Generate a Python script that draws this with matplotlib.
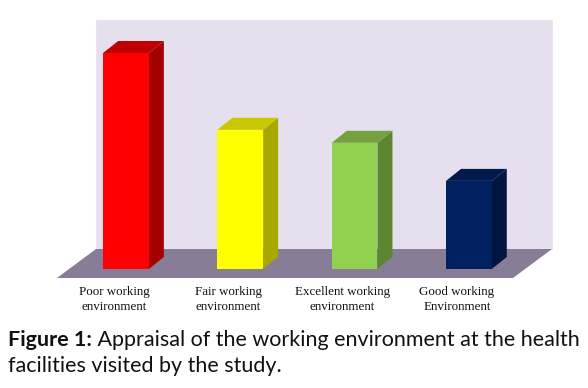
import matplotlib
matplotlib.use("Agg")
import matplotlib.pyplot as plt
from matplotlib.patches import Polygon, Rectangle

# ---- data ----
categories = ["Poor working\nenvironment", "Fair working\nenvironment",
              "Excellent working\nenvironment", "Good working\nEnvironment"]
values = [38.0, 24.5, 22.2, 15.5]
front_colors = ["#FF0000", "#FFFF00", "#92D050", "#002060"]
side_colors = ["#A50000", "#A8A800", "#5E8532", "#00163F"]
top_colors = ["#C00000", "#C8C800", "#74A03E", "#001A4E"]
caption_bold = "Figure 1:"
caption_rest = " Appraisal of the working environment at the health"
caption_line2 = "facilities visited by the study."

W, H = 588, 388
fig = plt.figure(figsize=(W / 100, H / 100), dpi=100)
fig.patch.set_facecolor("white")

# axes in pixel layout
ax = fig.add_axes([40 / W, 88 / H, 540 / W, 290 / H])
px_per_x = 114.3
px_per_y = 5.684
x0_px, y0_px = 126, 269  # pixel of data origin (from left / from top)
ax.set_xlim((40 - x0_px) / px_per_x, (580 - x0_px) / px_per_x)
ax.set_ylim((y0_px - 300) / px_per_y, (y0_px - 10) / px_per_y)
ax.axis("off")

def dx(p):
    return p / px_per_x

def dy(p):
    return p / px_per_y

# back wall
wall_left, wall_right = dx(96 - x0_px), dx(552 - x0_px)
wall_bottom, wall_top = dy(y0_px - 249), dy(y0_px - 20)
ax.add_patch(Rectangle((wall_left, wall_bottom), wall_right - wall_left,
                       wall_top - wall_bottom, facecolor="#E5DFEE",
                       edgecolor="#EDE3EE", lw=0.8, zorder=0))
# floor
floor_front = dy(y0_px - 278)
floor_pts = [(dx(57 - x0_px), floor_front), (dx(513 - x0_px), floor_front),
             (wall_right, wall_bottom), (wall_left, wall_bottom)]
ax.add_patch(Polygon(floor_pts, closed=True, facecolor="#877D97",
                     edgecolor="none", zorder=1))

# bars
bw = 0.4
ddx, ddy = dx(15), dy(12)
xs = list(range(len(values)))
bars = ax.bar(xs, values, width=bw, color=front_colors, zorder=3,
              edgecolor="none")
for x, v, sc, tc in zip(xs, values, side_colors, top_colors):
    r = x + bw / 2
    l = x - bw / 2
    ax.add_patch(Polygon([(r, 0), (r + ddx, ddy), (r + ddx, v + ddy), (r, v)],
                         closed=True, facecolor=sc, edgecolor="none", zorder=2))
    ax.add_patch(Polygon([(l, v), (r, v), (r + ddx, v + ddy), (l + ddx, v + ddy)],
                         closed=True, facecolor=tc, edgecolor="none", zorder=2))

# category labels (centred on the floor's front edge, slightly left of bars)
for x, lab in zip(xs, categories):
    ax.text(x - dx(12), dy(y0_px - 286), lab, ha="center", va="top",
            family="Liberation Serif", fontsize=9.4, color="#111111",
            linespacing=1.32)

# caption
cap_font = "Lato"
fs = 13.0
t1 = fig.text(8 / W, 1 - 346 / H, caption_bold, fontsize=fs, family=cap_font,
              weight="bold", ha="left", va="baseline", color="#111111")
t2 = fig.text(0, 0, caption_rest, fontsize=fs, family=cap_font,
              ha="left", va="baseline", color="#111111")
t3 = fig.text(8 / W, 1 - 372 / H, caption_line2, fontsize=fs, family=cap_font,
              ha="left", va="baseline", color="#111111")
renderer = fig.canvas.get_renderer()
target = 577 - 8
w = t1.get_window_extent(renderer).width + t2.get_window_extent(renderer).width
fs = fs * target / w
for t in (t1, t2, t3):
    t.set_fontsize(fs)
b1 = t1.get_window_extent(renderer)
t2.set_position((b1.x1 / W, 1 - 346 / H))

fig.savefig("out.png", dpi=100, facecolor="white")
